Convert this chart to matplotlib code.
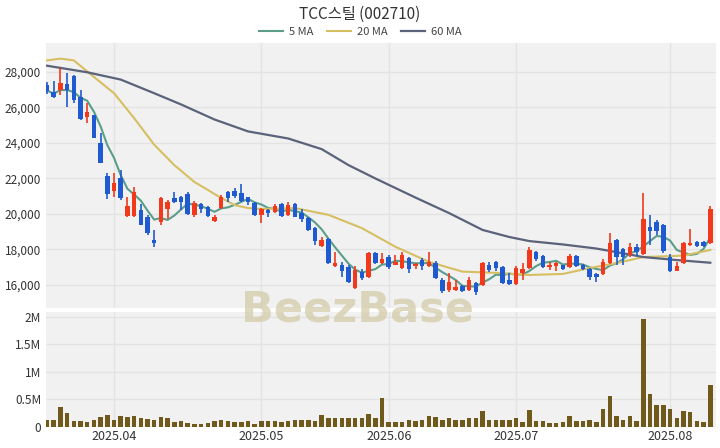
import matplotlib
matplotlib.use("Agg")
import matplotlib.pyplot as plt
import numpy as np
import pandas as pd
from matplotlib.ticker import FuncFormatter, FixedLocator

plt.rcParams['font.family'] = ['Noto Sans CJK KR', 'DejaVu Sans']

# daily candles, 2025-03-18 .. 2025-08-11 (trading days)
opens = [27250, 26870, 26990, 27300, 27750, 26600, 25450, 25550, 24000, 22140,
         21300, 22000, 19900, 19900, 20200, 19800, 18550, 19550, 20300, 20900,
         20950, 21100, 19950, 20550, 20400, 19600, 20350, 21250, 21300, 21200,
         20950, 20600, 19950, 20200, 20100, 20550, 19950, 20550, 20050, 19750,
         19200, 18200, 18600, 17050, 17100, 17000, 15850, 16750, 16450, 17800,
         17250, 17600, 17150, 16950, 17500, 17050, 17400, 17050, 17250, 16300,
         15700, 15700, 15950, 15700, 16100, 16000, 17150, 17300, 17000, 16250,
         16050, 16700, 16950, 17850, 17650, 17000, 17050, 17100, 17000, 17650,
         17100, 16900, 16600, 16600, 17250, 18550, 18050, 17700, 18150, 17750,
         19250, 19550, 19400, 17600, 16800, 17250, 18250, 18400, 18400, 18350]
highs = [27450, 27500, 28200, 27950, 27800, 27000, 26250, 25600, 24550, 22300,
         22300, 22450, 20950, 21500, 20550, 19950, 19100, 20950, 20800, 21250,
         21000, 21250, 20750, 20600, 20450, 19950, 21050, 21300, 21450, 21700,
         20950, 20700, 20350, 20300, 20550, 20600, 20650, 20600, 20250, 19800,
         19250, 18700, 18650, 17850, 17300, 17150, 17050, 16900, 17850, 17850,
         17800, 17700, 17700, 17850, 17550, 17250, 17500, 17850, 17350, 16400,
         16700, 16300, 16000, 16450, 16150, 17300, 17300, 17350, 17050, 16650,
         17050, 17250, 18150, 17900, 17700, 17300, 17300, 17150, 17750, 17700,
         17200, 16950, 16700, 17450, 18950, 18600, 18100, 18350, 18300, 21200,
         19950, 19650, 19450, 17750, 17300, 18400, 19150, 18500, 18450, 20450]
lows = [26750, 26550, 26700, 26000, 26250, 25300, 25100, 24250, 22850, 20850,
        20950, 20800, 19850, 19800, 19350, 18800, 18150, 19400, 19700, 20600,
        20200, 19950, 19850, 20050, 19850, 19550, 20300, 20700, 20900, 20700,
        20500, 19900, 19500, 19850, 20050, 19850, 19900, 19800, 19550, 19050,
        18250, 18150, 17200, 17000, 16450, 16100, 15750, 16250, 16400, 17200,
        17200, 16900, 17100, 16900, 16650, 16900, 16850, 17000, 16350, 15550,
        15600, 15650, 15600, 15650, 15450, 15950, 16750, 16800, 16050, 16000,
        16000, 16300, 16900, 17350, 16950, 16850, 16800, 16850, 16950, 17000,
        16850, 16300, 16150, 16550, 17200, 17150, 17150, 17600, 17650, 17700,
        18250, 18800, 17800, 16750, 16800, 17200, 18200, 18150, 18150, 18300]
closes = [26950, 26600, 27380, 27000, 26400, 25350, 25750, 24300, 22870, 21130,
          21750, 20900, 20450, 21250, 19400, 18950, 18350, 20900, 20700, 20650,
          20650, 20000, 20600, 20300, 19900, 19800, 20950, 20900, 21000, 20750,
          20650, 19950, 20300, 20050, 20450, 19900, 20500, 19850, 19700, 19100,
          18450, 18550, 17250, 17250, 16800, 16150, 16850, 16400, 17800, 17250,
          17450, 17000, 17300, 17700, 16900, 17200, 17050, 17300, 16400, 15650,
          16150, 15900, 15650, 16250, 15600, 17250, 16850, 16950, 16100, 16050,
          16950, 16900, 17950, 17450, 17000, 17150, 17250, 16900, 17650, 17050,
          16900, 16450, 16450, 17300, 18350, 17550, 17600, 18150, 17850, 19700,
          19050, 19050, 17900, 16800, 17050, 18350, 18350, 18200, 18200, 20300]
volumes_m = [0.13, 0.13, 0.36, 0.25, 0.10, 0.10, 0.09, 0.12, 0.17, 0.22,
             0.13, 0.20, 0.17, 0.19, 0.16, 0.14, 0.12, 0.18, 0.15, 0.08,
             0.10, 0.06, 0.045, 0.045, 0.06, 0.11, 0.13, 0.10, 0.08, 0.08,
             0.10, 0.05, 0.10, 0.10, 0.10, 0.08, 0.11, 0.13, 0.12, 0.12,
             0.11, 0.21, 0.16, 0.16, 0.16, 0.15, 0.15, 0.15, 0.24, 0.15,
             0.53, 0.09, 0.09, 0.09, 0.13, 0.10, 0.12, 0.19, 0.17, 0.13,
             0.15, 0.12, 0.12, 0.16, 0.15, 0.285, 0.12, 0.13, 0.13, 0.12,
             0.16, 0.08, 0.30, 0.11, 0.10, 0.07, 0.07, 0.08, 0.19, 0.11,
             0.11, 0.12, 0.09, 0.33, 0.55, 0.19, 0.13, 0.19, 0.10, 1.95,
             0.60, 0.395, 0.395, 0.315, 0.15, 0.29, 0.26, 0.10, 0.08, 0.75]

# longer moving averages at a few days
ma20_day = [0, 2, 4, 7, 10, 13, 16, 19, 22, 26, 28, 30, 32, 37, 42, 47, 52, 57,
            62, 67, 72, 77, 81, 85, 89, 95, 99]
ma20 = [28650, 28750, 28650, 27720, 26800, 25400, 23900, 22750, 21800, 20900,
        20500, 20330, 20280, 20330, 19950, 19200, 18150, 17300, 16750, 16680,
        16560, 16620, 16950, 17230, 17570, 17650, 17970]
ma60_day = [0, 6, 11, 16, 20, 25, 30, 33, 36, 41, 45, 49, 55, 60, 65, 69, 72,
            77, 82, 86, 89, 94, 99]
ma60 = [28350, 27980, 27570, 26800, 26170, 25320, 24650, 24450, 24250, 23650,
        22750, 22000, 20920, 20050, 19100, 18700, 18470, 18280, 18050, 17780,
        17570, 17400, 17250]

month_days = [10, 32, 51, 70, 93]
month_labels = ['2025.04', '2025.05', '2025.06', '2025.07', '2025.08']

o = np.array(opens); h = np.array(highs); l = np.array(lows); c = np.array(closes)
days = np.arange(len(c))
ma5 = pd.Series(c).rolling(5, min_periods=1).mean()

up_col = '#f2391b'
dn_col = '#1f5ad0'
bg = '#f1f1f1'
grid_col = '#e3e3e3'

fig = plt.figure(figsize=(7.2, 4.48), dpi=100)
ax = fig.add_axes([46/720, 1 - 308/448, 670/720, 265/448])
axv = fig.add_axes([46/720, 1 - 427/448, 670/720, 115/448], sharex=ax)

for a in (ax, axv):
    a.set_facecolor(bg)
    for s in a.spines.values():
        s.set_visible(False)
    a.tick_params(length=0, labelsize=8.5, colors='#333333')
    a.xaxis.set_major_locator(FixedLocator(month_days))
    a.grid(True, color=grid_col, linewidth=1)
    a.set_axisbelow(True)

ax.plot(days, ma5, color='#5a9e8a', linewidth=1.5, zorder=2.5, label='5 MA')
ax.plot(ma20_day, ma20, color='#d6bf62', linewidth=1.5, zorder=2.5, label='20 MA')
ax.plot(ma60_day, ma60, color='#5b6279', linewidth=1.6, zorder=2.5, label='60 MA')

cols = np.where(c >= o, up_col, dn_col)
ax.vlines(days, l, h, colors=cols, linewidth=1.2, zorder=3)
ax.bar(days, np.maximum(np.abs(c - o), 40), bottom=np.minimum(o, c), width=0.68,
       color=cols, zorder=4)

ax.set_xlim(-0.15, 99.85)
ax.set_ylim(14700, 29630)
ax.set_yticks(range(16000, 28001, 2000))
ax.yaxis.set_major_formatter(FuncFormatter(lambda v, p: f'{int(v):,}'))
plt.setp(ax.get_xticklabels(), visible=False)

axv.bar(days, np.array(volumes_m) * 1e6, width=0.68, color='#6f5a1c', zorder=3)
axv.set_ylim(-5000, 2.085e6)
axv.set_yticks([0, 0.5e6, 1e6, 1.5e6, 2e6])
axv.set_yticklabels(['0', '0.5M', '1M', '1.5M', '2M'])
axv.set_xticklabels(month_labels, fontsize=9)
axv.tick_params(axis='x', pad=2)

fig.text(0.5, 0.967, 'TCC스틸 (002710)', ha='center', va='center', fontsize=11,
         color='#333333')
fig.legend(loc='center', bbox_to_anchor=(0.5, 0.928), ncol=3, frameon=False,
           fontsize=8, handlelength=2.2, columnspacing=1.2, handletextpad=0.5,
           labelcolor='#444444')
fig.text(0.497, 0.31, 'BeezBase', ha='center', va='center', fontsize=31,
         fontweight='bold', color='#d3cba8', alpha=0.75, family='DejaVu Sans')

fig.savefig('out.png', dpi=100)
